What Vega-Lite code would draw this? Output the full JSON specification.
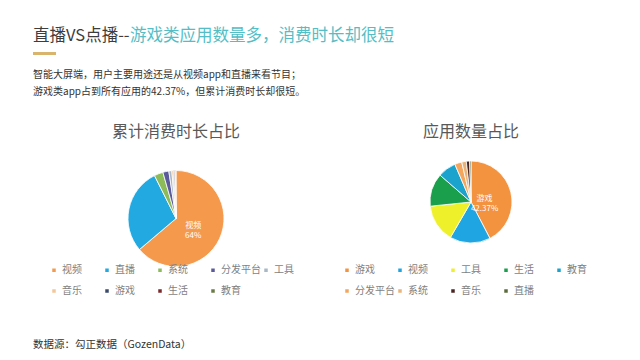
{
  "$schema": "https://vega.github.io/schema/vega-lite/v6.json",
  "background": "white",
  "padding": {"left": 33, "top": 27, "right": 0, "bottom": 0},
  "datasets": {
    "time": [
      {"app": "视频", "share": 63.8, "i": 1, "label": "视频\n64%"},
      {"app": "直播", "share": 28.8, "i": 2, "label": ""},
      {"app": "系统", "share": 3.0, "i": 3, "label": ""},
      {"app": "分发平台", "share": 2.0, "i": 4, "label": ""},
      {"app": "工具", "share": 1.0, "i": 5, "label": ""},
      {"app": "音乐", "share": 0.6, "i": 6, "label": ""},
      {"app": "游戏", "share": 0.4, "i": 7, "label": ""},
      {"app": "生活", "share": 0.2, "i": 8, "label": ""},
      {"app": "教育", "share": 0.2, "i": 9, "label": ""}
    ],
    "count": [
      {"app": "游戏", "share": 42.37, "i": 1, "label": "游戏\n42.37%"},
      {"app": "视频", "share": 16.0, "i": 2, "label": ""},
      {"app": "工具", "share": 15.0, "i": 3, "label": ""},
      {"app": "生活", "share": 13.0, "i": 4, "label": ""},
      {"app": "教育", "share": 7.2, "i": 5, "label": ""},
      {"app": "分发平台", "share": 2.8, "i": 6, "label": ""},
      {"app": "系统", "share": 1.8, "i": 7, "label": ""},
      {"app": "音乐", "share": 1.3, "i": 8, "label": ""},
      {"app": "直播", "share": 0.53, "i": 9, "label": ""}
    ]
  },
  "title": {
    "text": "数据源：勾正数据（GozenData）",
    "orient": "bottom",
    "anchor": "start",
    "fontSize": 10.5,
    "fontWeight": "normal",
    "color": "#333333",
    "offset": 43
  },
  "spacing": 15,
  "vconcat": [
    {
      "spacing": 0,
      "hconcat": [
        {
          "title": {"text": "直播VS点播--", "anchor": "start", "fontSize": 16.5, "fontWeight": "normal", "color": "#3d3d3d", "offset": 8},
          "width": 23,
          "height": 3,
          "data": {"values": [{}]},
          "mark": {"type": "rect", "color": "#D8B46C"},
          "encoding": {}
        },
        {
          "title": {"text": "游戏类应用数量多，消费时长却很短", "anchor": "start", "fontSize": 16.5, "fontWeight": "normal", "color": "#53BEC6", "offset": 8},
          "width": 1,
          "height": 3,
          "data": {"values": [{}]},
          "mark": {"type": "rect", "opacity": 0},
          "encoding": {}
        }
      ]
    },
    {
      "title": {
        "text": ["智能大屏端，用户主要用途还是从视频app和直播来看节目；", "游戏类app占到所有应用的42.37%，但累计消费时长却很短。"],
        "anchor": "start",
        "fontSize": 10,
        "fontWeight": "normal",
        "color": "#333333",
        "lineHeight": 17,
        "offset": 2
      },
      "width": 300,
      "height": 10,
      "data": {"values": [{}]},
      "mark": {"type": "rect", "opacity": 0},
      "encoding": {}
    },
    {
      "spacing": 0,
      "resolve": {"scale": {"color": "independent", "theta": "independent"}},
      "hconcat": [
        {
          "title": {"text": "累计消费时长占比", "fontSize": 16, "fontWeight": "normal", "color": "#595959", "offset": 6},
          "width": 286,
          "height": 145,
          "data": {"name": "time"},
          "encoding": {
            "theta": {"field": "share", "type": "quantitative", "stack": true},
            "order": {"field": "i", "type": "quantitative"}
          },
          "layer": [
            {
              "mark": {"type": "arc", "outerRadius": 48, "stroke": "#ffffff", "strokeWidth": 0.8},
              "encoding": {
                "color": {
                  "field": "app",
                  "type": "nominal",
                  "scale": {
                    "domain": ["视频", "直播", "系统", "分发平台", "工具", "音乐", "游戏", "生活", "教育"],
                    "range": ["#F59A4C", "#22A9E1", "#8DBB5A", "#5B5B9C", "#A9B8C6", "#F2C79A", "#3B4A6B", "#7A2A2A", "#6B7B45"]
                  },
                  "legend": {
                    "title": null,
                    "orient": "none",
                    "legendX": 16,
                    "legendY": 119,
                    "direction": "horizontal",
                    "columns": 5,
                    "gridAlign": "all",
                    "columnPadding": -5,
                    "rowPadding": 9,
                    "padding": 0,
                    "symbolType": "square",
                    "symbolSize": 25,
                    "labelFontSize": 10,
                    "labelColor": "#7f7f7f",
                    "labelOffset": 3
                  }
                }
              }
            },
            {
              "mark": {"type": "text", "radius": 19, "fontSize": 8, "color": "#ffffff", "lineBreak": "\n"},
              "encoding": {"text": {"field": "label"}}
            }
          ]
        },
        {
          "title": {"text": "应用数量占比", "fontSize": 16, "fontWeight": "normal", "color": "#595959", "offset": 6},
          "width": 304,
          "height": 112,
          "data": {"name": "count"},
          "encoding": {
            "theta": {"field": "share", "type": "quantitative", "stack": true},
            "order": {"field": "i", "type": "quantitative"}
          },
          "layer": [
            {
              "mark": {"type": "arc", "outerRadius": 41, "stroke": "#ffffff", "strokeWidth": 0.8},
              "encoding": {
                "color": {
                  "field": "app",
                  "type": "nominal",
                  "scale": {
                    "domain": ["游戏", "视频", "工具", "生活", "教育", "分发平台", "系统", "音乐", "直播"],
                    "range": ["#F3923F", "#1FA6E2", "#EEF02A", "#1AA04C", "#1BA3CE", "#F4A65E", "#E9B47B", "#4A2420", "#5C6B3E"]
                  },
                  "legend": {
                    "title": null,
                    "orient": "none",
                    "legendX": 23,
                    "legendY": 119,
                    "direction": "horizontal",
                    "columns": 5,
                    "gridAlign": "all",
                    "columnPadding": -5,
                    "rowPadding": 9,
                    "padding": 0,
                    "symbolType": "square",
                    "symbolSize": 25,
                    "labelFontSize": 10,
                    "labelColor": "#7f7f7f",
                    "labelOffset": 3
                  }
                }
              }
            },
            {
              "mark": {"type": "text", "radius": 14, "fontSize": 8, "color": "#ffffff", "lineBreak": "\n"},
              "encoding": {"text": {"field": "label"}}
            }
          ]
        }
      ]
    }
  ],
  "config": {
    "view": {"stroke": null},
    "font": "Noto Sans CJK SC",
    "title": {"font": "Noto Sans CJK SC"},
    "legend": {"labelFont": "Noto Sans CJK SC"},
    "text": {"font": "Noto Sans CJK SC"}
  }
}
